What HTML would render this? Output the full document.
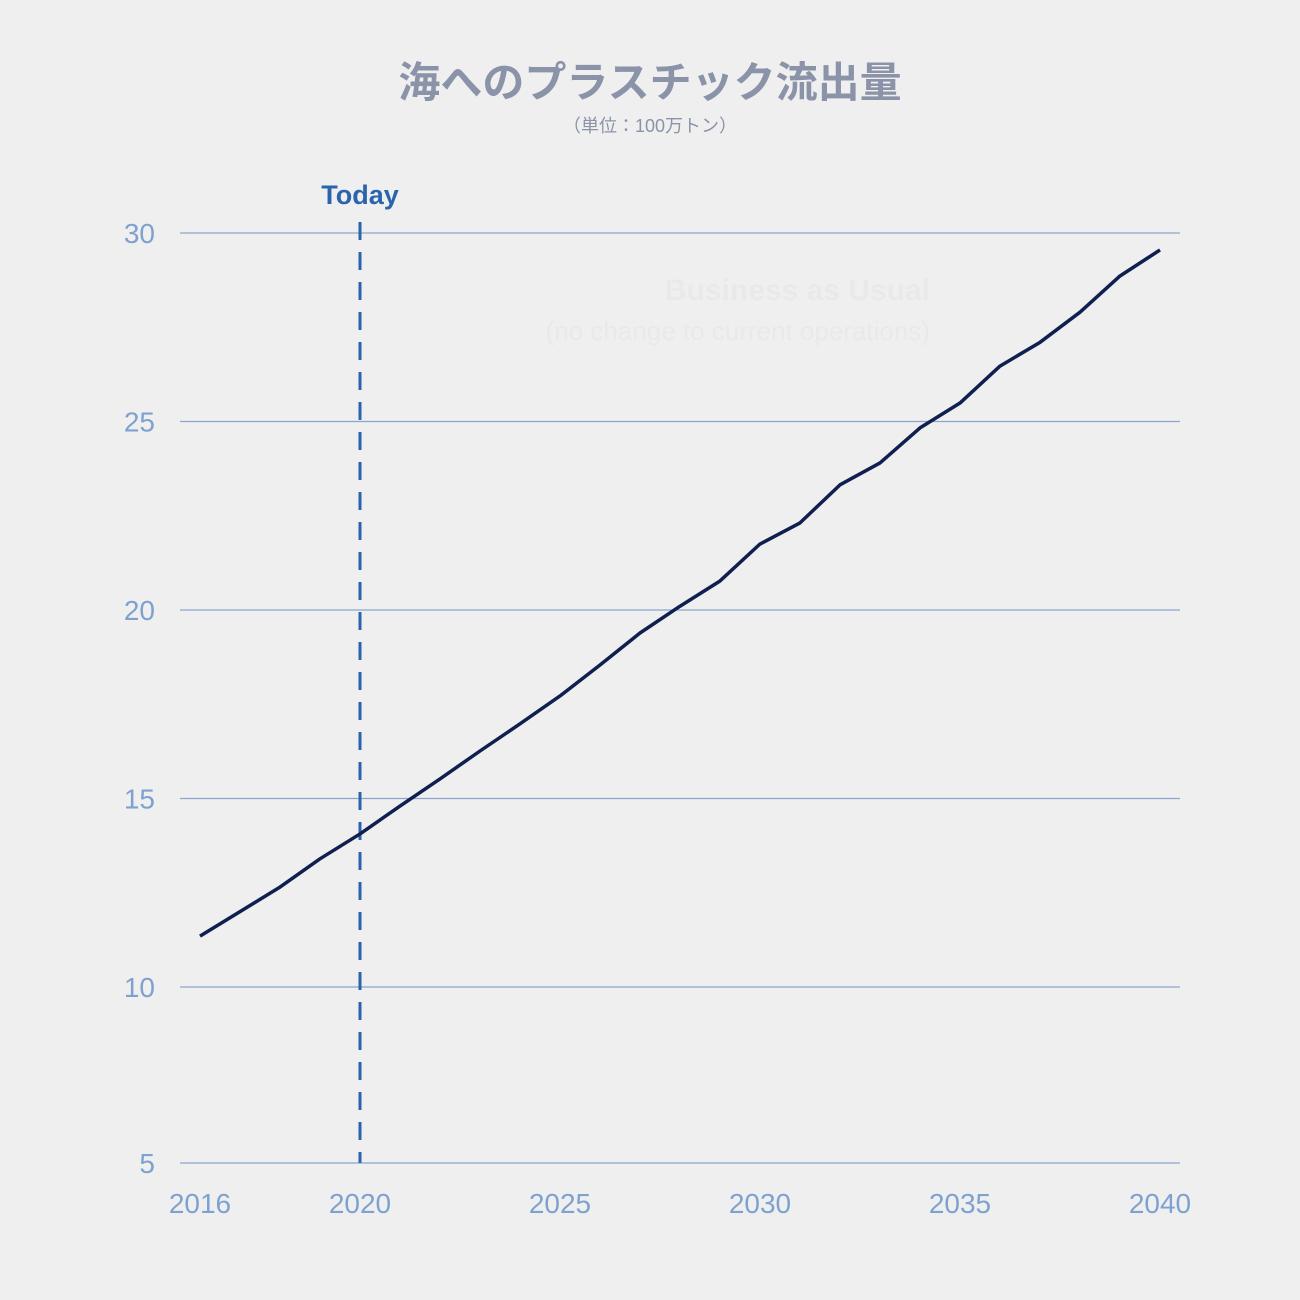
<!DOCTYPE html>
<html><head><meta charset="utf-8"><style>
html,body{margin:0;padding:0;background:#efefef;}
svg{display:block;}
</style></head><body>
<svg id="chart" width="1300" height="1300" viewBox="0 0 1300 1300">
<rect width="1300" height="1300" fill="#efefef"/>
<text x="650" y="97" text-anchor="middle" font-family="'Liberation Sans','Noto Sans CJK JP',sans-serif" font-size="42" font-weight="bold" fill="#8a93a8">海へのプラスチック流出量</text>
<text x="650" y="132" text-anchor="middle" font-family="'Liberation Sans','Noto Sans CJK JP',sans-serif" font-size="18" fill="#8a93a8">（単位：100万トン）</text>
<text x="930" y="300" text-anchor="end" font-family="'Liberation Sans',sans-serif" font-size="30" font-weight="bold" fill="#e9e9e9">Business as Usual</text>
<text x="930" y="340" text-anchor="end" font-family="'Liberation Sans',sans-serif" font-size="26" fill="#e9e9e9">(no change to current operations)</text>
<g id="grid"></g><g id="xt"></g>
<line x1="360" y1="222" x2="360" y2="1163" stroke="#2a64ad" stroke-width="3" stroke-dasharray="18,12"/>
<text x="360" y="204" text-anchor="middle" font-family="'Liberation Sans',sans-serif" font-size="27" font-weight="bold" fill="#2a64ad">Today</text>
<path id="line" fill="none" stroke="#0f2050" stroke-width="3.5" stroke-linejoin="round"/>
</svg>
<script>
const years=[2016,2017,2018,2019,2020,2021,2022,2023,2024,2025,2026,2027,2028,2029,2030,2031,2032,2033,2034,2035,2036,2037,2038,2039,2040];
const values=[11.35,12.0,12.65,13.4,14.06,14.8,15.52,16.26,16.98,17.72,18.54,19.39,20.1,20.77,21.75,22.31,23.32,23.9,24.83,25.49,26.47,27.1,27.9,28.86,29.55];
const yTicks=[30,25,20,15,10];
const xTicks=[2016,2020,2025,2030,2035,2040];
const NS="http://www.w3.org/2000/svg";
const xs=v=>200+(v-2016)*40;
const ys=v=>233+(30-v)*37.7;
const grid=document.getElementById('grid');
function mk(tag,attrs,parent){const e=document.createElementNS(NS,tag);for(const k in attrs)e.setAttribute(k,attrs[k]);parent.appendChild(e);return e;}
yTicks.concat([5]).forEach(t=>{
  const y=t===5?1163:ys(t);
  const l=mk('line',{x1:180,x2:1180,y1:y,y2:y,stroke:'#8aa6cc','stroke-width':1.3},grid);
  
  
  const tx=mk('text',{x:155,y:y+10,'text-anchor':'end','font-family':'Liberation Sans,sans-serif','font-size':28,fill:'#7ea2d0'},grid);
  tx.textContent=t;
  
  
});
const xt=document.getElementById('xt');
xTicks.forEach(t=>{
  const tx=mk('text',{x:xs(t),y:1213,'text-anchor':'middle','font-family':'Liberation Sans,sans-serif','font-size':28,fill:'#7ea2d0'},xt);
  tx.textContent=t;
  
  
});
document.getElementById('line').setAttribute('d',years.map((y,i)=>(i?'L':'M')+xs(y)+','+ys(values[i])).join(' '));
</script>
</body></html>
